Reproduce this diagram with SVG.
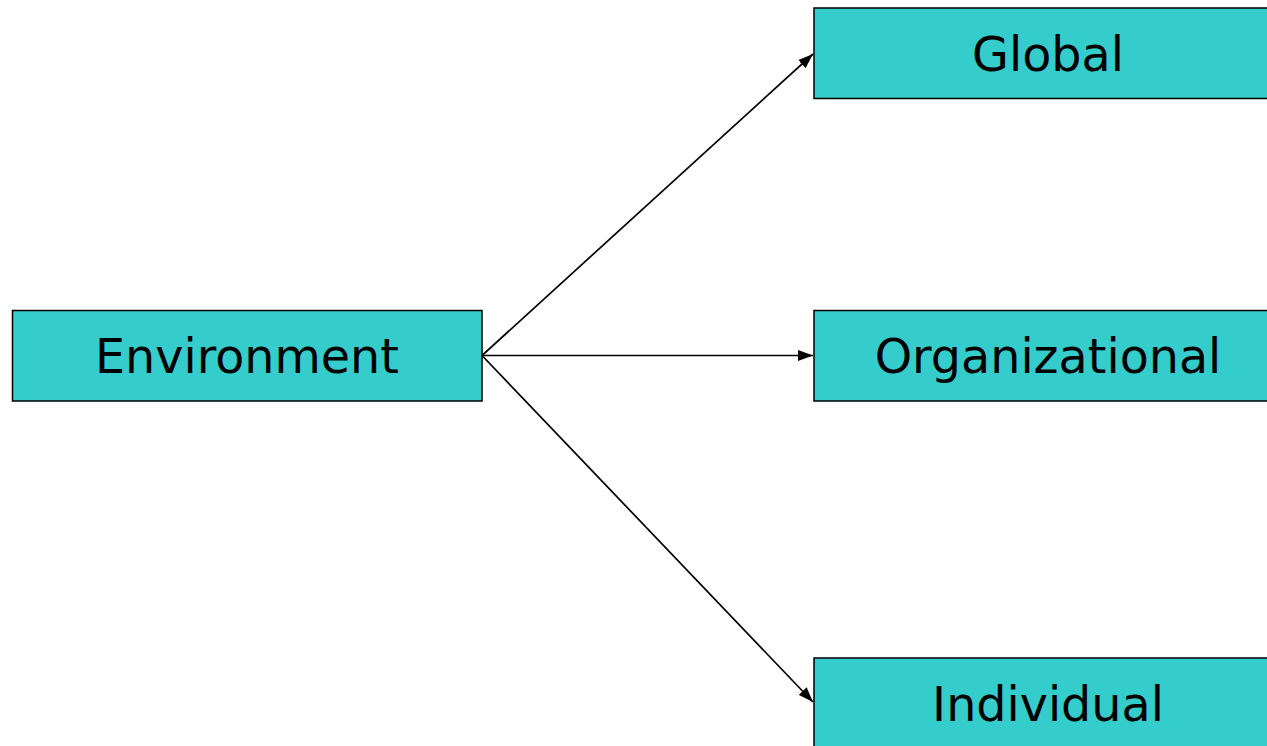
<svg xmlns="http://www.w3.org/2000/svg" width="1267" height="746" viewBox="0 0 1267 746">
<style>
.box{fill:#35CCCC;stroke:#000;stroke-width:1.5}
.lbl{font-family:"DejaVu Sans",Verdana,sans-serif;font-size:47.6px;fill:#000;text-anchor:middle}
.edge{stroke:#000;stroke-width:1.7;fill:none;marker-end:url(#ah)}
</style>
<defs>
<marker id="ah" viewBox="0 0 15 11" refX="15" refY="5.5" markerWidth="15" markerHeight="11" markerUnits="userSpaceOnUse" orient="auto">
<path d="M0,0 L15,5.5 L0,11 Z" fill="#000"/>
</marker>
</defs>
<rect width="1267" height="746" fill="#fff"/>
<g id="connectors">
<line class="edge" x1="482" y1="355.5" x2="813" y2="54"/>
<line class="edge" x1="482" y1="355.5" x2="813" y2="355.5"/>
<line class="edge" x1="482" y1="355.5" x2="813" y2="702"/>
</g>
<g id="environment">
<rect class="box" x="12.5" y="310.5" width="469.5" height="90.5"/>
<text class="lbl" x="247" y="373">Environment</text>
</g>
<g id="global">
<rect class="box" x="814" y="8" width="469.5" height="90.5"/>
<text class="lbl" x="1048" y="71">Global</text>
</g>
<g id="organizational">
<rect class="box" x="814" y="310.5" width="469.5" height="90.5"/>
<text class="lbl" x="1048" y="373">Organizational</text>
</g>
<g id="individual">
<rect class="box" x="814" y="658" width="469.5" height="90.5"/>
<text class="lbl" x="1048" y="721">Individual</text>
</g>
</svg>
